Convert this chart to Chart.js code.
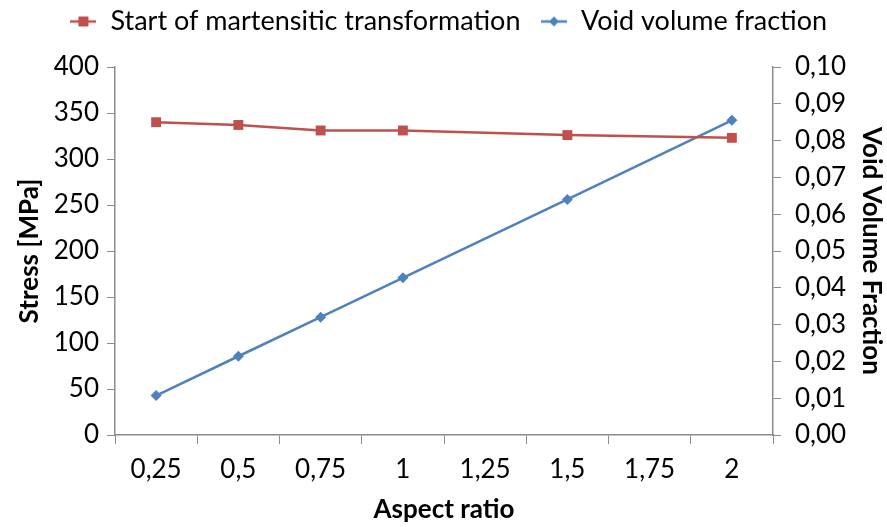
<!DOCTYPE html>
<html>
<head>
<meta charset="utf-8">
<script src="https://cdn.jsdelivr.net/npm/chart.js@4"></script>
<style>
  html, body { margin: 0; padding: 0; background: #fff; }
  #wrap { width: 887px; height: 527px; }
</style>
</head>
<body>
<div id="wrap"><canvas id="chart"></canvas></div>
<script>
// values
const aspectLabels = ["0,25", "0,5", "0,75", "1", "1,25", "1,5", "1,75", "2"];
const startMartensite = [340, 337, 331, 331, null, 326, null, 323];
const voidFraction = [0.0107, 0.0214, 0.0320, 0.0427, null, 0.0640, null, 0.0855];
const stressTicks = { min: 0, max: 400, step: 50 };
const voidTicks = { min: 0, max: 0.1, step: 0.01 };

const RED = "#C0504D";
const BLUE = "#4F81BD";
const AXIS = "#8C8C8C";
const FONT = "Lato, 'Open Sans', sans-serif";

// little legend icon: a line with the marker in the middle
function legendIcon(color, shape) {
  let c = document.createElement("canvas");
  c.width = 26;
  c.height = 14;
  let ctx = c.getContext("2d");
  ctx.strokeStyle = color;
  ctx.lineWidth = 2.5;
  ctx.beginPath();
  ctx.moveTo(0, 7);
  ctx.lineTo(26, 7);
  ctx.stroke();
  ctx.fillStyle = color;
  if (shape == "square") {
    ctx.fillRect(8, 2, 10, 10);
  } else {
    ctx.beginPath();
    ctx.moveTo(13, 2);
    ctx.lineTo(18, 7);
    ctx.lineTo(13, 12);
    ctx.lineTo(8, 7);
    ctx.closePath();
    ctx.fill();
  }
  return c;
}

const icons = [legendIcon(RED, "square"), legendIcon(BLUE, "diamond")];

// push the plot area a bit further below the legend
const legendGap = {
  id: "legendGap",
  beforeInit: function (chart) {
    let fit = chart.legend.fit;
    chart.legend.fit = function () {
      fit.bind(chart.legend)();
      this.height += 22;
    };
  },
};

new Chart(document.getElementById("chart"), {
  type: "line",
  data: {
    labels: aspectLabels,
    datasets: [
      {
        label: "Start of martensitic transformation",
        data: startMartensite,
        yAxisID: "y",
        borderColor: RED,
        backgroundColor: RED,
        borderWidth: 2.5,
        pointStyle: "rect",
        pointRadius: 7,
        pointBorderWidth: 0,
        spanGaps: true,
      },
      {
        label: "Void volume fraction",
        data: voidFraction,
        yAxisID: "y1",
        borderColor: BLUE,
        backgroundColor: BLUE,
        borderWidth: 2.5,
        pointStyle: "rectRot",
        pointRadius: 5.5,
        pointBorderWidth: 0,
        spanGaps: true,
      },
    ],
  },
  plugins: [legendGap],
  options: {
    responsive: true,
    maintainAspectRatio: false,
    animation: false,
    layout: { padding: { left: 10, right: 0, top: -12, bottom: 0 } },
    plugins: {
      tooltip: { enabled: false },
      legend: {
        position: "top",
        labels: {
          usePointStyle: true,
          color: "#000",
          font: { family: FONT, size: 27 },
          padding: 20,
          generateLabels: function (chart) {
            return chart.data.datasets.map(function (ds, i) {
              return {
                text: ds.label,
                pointStyle: icons[i],
                fillStyle: ds.borderColor,
                strokeStyle: ds.borderColor,
                lineWidth: 0,
                datasetIndex: i,
                hidden: false,
              };
            });
          },
        },
      },
    },
    scales: {
      x: {
        offset: true,
        afterFit: function (scale) {
          scale.height = 92;
        },
        grid: {
          offset: true,
          drawOnChartArea: false,
          color: AXIS,
          tickLength: 9,
          tickWidth: 1,
        },
        border: { color: AXIS, width: 1.5 },
        ticks: { color: "#000", font: { family: FONT, size: 26 }, padding: 10, maxRotation: 0 },
        title: {
          display: true,
          text: "Aspect ratio",
          color: "#000",
          font: { family: FONT, size: 26, weight: "bold" },
          padding: { top: 6, bottom: 2 },
        },
      },
      y: {
        position: "left",
        min: stressTicks.min,
        max: stressTicks.max,
        afterFit: function (scale) {
          scale.width = 105;
        },
        grid: { drawOnChartArea: false, color: AXIS, tickLength: 8 },
        border: { color: AXIS, width: 1.5 },
        ticks: {
          stepSize: stressTicks.step,
          color: "#000",
          font: { family: FONT, size: 26 },
          padding: 8,
        },
        title: {
          display: true,
          text: "Stress [MPa]",
          color: "#000",
          font: { family: FONT, size: 26, weight: "bold" },
          padding: { bottom: 0 },
        },
      },
      y1: {
        position: "right",
        min: voidTicks.min,
        max: voidTicks.max,
        afterFit: function (scale) {
          scale.width = 114;
        },
        grid: { drawOnChartArea: false, color: AXIS, tickLength: 8 },
        border: { color: AXIS, width: 1.5 },
        ticks: {
          stepSize: voidTicks.step,
          color: "#000",
          font: { family: FONT, size: 26 },
          padding: 14,
          callback: function (v) {
            return v.toFixed(2).replace(".", ",");
          },
        },
        title: {
          display: true,
          text: "Void Volume Fraction",
          color: "#000",
          font: { family: FONT, size: 26, weight: "bold" },
          padding: { top: 0, bottom: 0 },
        },
      },
    },
  },
});
</script>
</body>
</html>
